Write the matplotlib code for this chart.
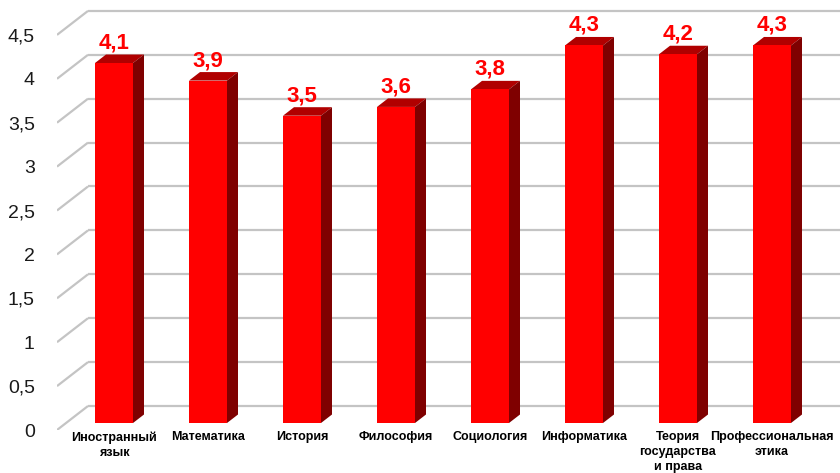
import matplotlib.pyplot as plt
from matplotlib.patches import Polygon
import numpy as np

plt.rcParams["font.family"] = ["Liberation Sans", "DejaVu Sans"]

subjects = ["Иностранный\nязык", "Математика", "История", "Философия",
            "Социология", "Информатика", "Теория\nгосударства\nи права",
            "Профессиональная\nэтика"]
scores = [4.1, 3.9, 3.5, 3.6, 3.8, 4.3, 4.2, 4.3]
y_ticks = [0, 0.5, 1, 1.5, 2, 2.5, 3, 3.5, 4, 4.5]
y_tick_labels = ["0", "0,5", "1", "1,5", "2", "2,5", "3", "3,5", "4", "4,5"]

W, H = 840, 473
PX_X, PX_Y = 94.0, 87.8  # pixels per data unit


def px(dx, dy):
    # pixel offset -> data offset (dy measured upwards)
    return dx / PX_X, dy / PX_Y


fig = plt.figure(figsize=(W / 100, H / 100), dpi=100)
ax = fig.add_axes([57 / W, 43 / H, (W - 57) / W, 430 / H])
x_lo = (57 - 105) / PX_X
x_hi = x_lo + (W - 57) / PX_X
ax.set_xlim(x_lo, x_hi)
ax.set_ylim(0, 430 / PX_Y)

wall_dx, wall_dy = px(31, 24)   # front plane -> back wall
plane_dx, plane_dy = px(9, 7)   # front plane -> bar plane
depth_dx, depth_dy = px(11, 8.5)  # bar depth
bar_w = 38 / PX_X

# gridlines on the side and back walls
grid_kw = dict(color="#c4c4c4", lw=1.6, solid_capstyle="butt", zorder=1)
for v in y_ticks:
    ax.plot([x_lo, x_lo + wall_dx], [v, v + wall_dy], **grid_kw)
    ax.plot([x_lo + wall_dx, x_hi], [v + wall_dy, v + wall_dy], **grid_kw)

x = np.arange(len(scores)) + plane_dx
ax.bar(x, scores, bottom=plane_dy, width=bar_w, color="#ff0000", zorder=3)

for bx, v in zip(x, scores):
    left, right = bx - bar_w / 2, bx + bar_w / 2
    top = plane_dy + v
    ax.add_patch(Polygon([(left, top), (right, top),
                          (right + depth_dx, top + depth_dy),
                          (left + depth_dx, top + depth_dy)],
                         closed=True, facecolor="#b00000", edgecolor="none",
                         zorder=2))
    ax.add_patch(Polygon([(right, plane_dy), (right, top),
                          (right + depth_dx, top + depth_dy),
                          (right + depth_dx, plane_dy + depth_dy)],
                         closed=True, facecolor="#7f0000", edgecolor="none",
                         zorder=2))
    ax.text(bx, top + depth_dy + 6 / PX_Y, f"{v:.1f}".replace(".", ","),
            ha="center", va="baseline", color="#ff0000", fontsize=16,
            fontweight="bold", zorder=4)

ax.set_yticks(y_ticks, y_tick_labels, fontsize=14, color="#1a1a1a")
ax.set_xticks(x, subjects, fontsize=9, fontweight="bold", color="#000000")
for lbl in ax.get_xticklabels():
    lbl.set_linespacing(1.3)
ax.tick_params(axis="y", length=0, pad=16)
ax.tick_params(axis="x", length=0, pad=1)
for s in ax.spines.values():
    s.set_visible(False)
ax.set_facecolor("none")

fig.savefig("out.png", dpi=100, facecolor="white")
